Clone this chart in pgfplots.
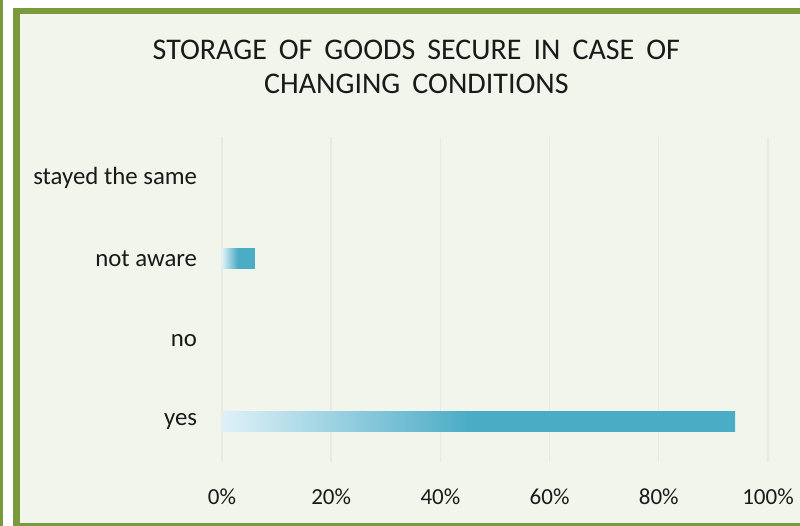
\documentclass[border=0pt]{standalone}
\usepackage{pgfplots}
\pgfplotsset{compat=1.18}
\usepackage{fontspec}
\setmainfont{Carlito}
\definecolor{bgc}{HTML}{F2F5EC}
\definecolor{framec}{HTML}{7A9A3C}
\definecolor{barteal}{HTML}{4BACC6}
\definecolor{lightteal}{HTML}{DFF1F8}
\definecolor{gridc}{HTML}{E8EBE2}
\definecolor{txt}{HTML}{1A1A1A}
\pgfdeclarehorizontalshading{barshade}{100bp}{color(0bp)=(lightteal); color(25bp)=(lightteal); color(49bp)=(barteal); color(100bp)=(barteal)}
\newcommand\titlefont{\fontsize{15}{17}\selectfont\spaceskip=0.4em\relax}
\begin{document}
\begin{tikzpicture}[x=1pt,y=1pt]
\useasboundingbox (0,0) rectangle (400,263);
\fill[white] (0,0) rectangle (400,263);
\fill[framec] (0,0) rectangle (1.5,263);
\fill[framec] (6.5,0) rectangle (400,259);
\fill[bgc] (10,1.5) rectangle (400,256);
\begin{axis}[
  at={(111pt,32pt)}, anchor=south west,
  scale only axis, width=273pt, height=162.5pt,
  xmin=0, xmax=100, ymin=-0.5, ymax=3.5,
  xtick={0,20,40,60,80,100},
  xticklabels={0\%,20\%,40\%,60\%,80\%,100\%},
  ytick={0,1,2,3},
  yticklabels={yes,no,not aware,stayed the same},
  xmajorgrids, major grid style={gridc, line width=0.7pt},
  axis line style={draw=none}, tick style={draw=none},
  tick label style={font=\fontsize{11.5}{13}\selectfont, text=txt},
  yticklabel style={font=\fontsize{12.4}{14}\selectfont, anchor=east, inner sep=0pt, xshift=-8pt},
  xticklabel style={anchor=north, inner sep=0pt, yshift=-13pt},
  title={STORAGE OF GOODS SECURE IN CASE OF\\CHANGING CONDITIONS},
  title style={at={(0.356,1.178)}, anchor=center, align=center,
    font=\titlefont, text=txt},
  xbar, bar width=10pt, bar shift=0pt,
  clip=false,
]
\addplot[xbar, draw=none, shading=barshade] coordinates {(94,0)};
\addplot[xbar, draw=none, shading=barshade] coordinates {(6,2)};
\end{axis}
\end{tikzpicture}
\end{document}
